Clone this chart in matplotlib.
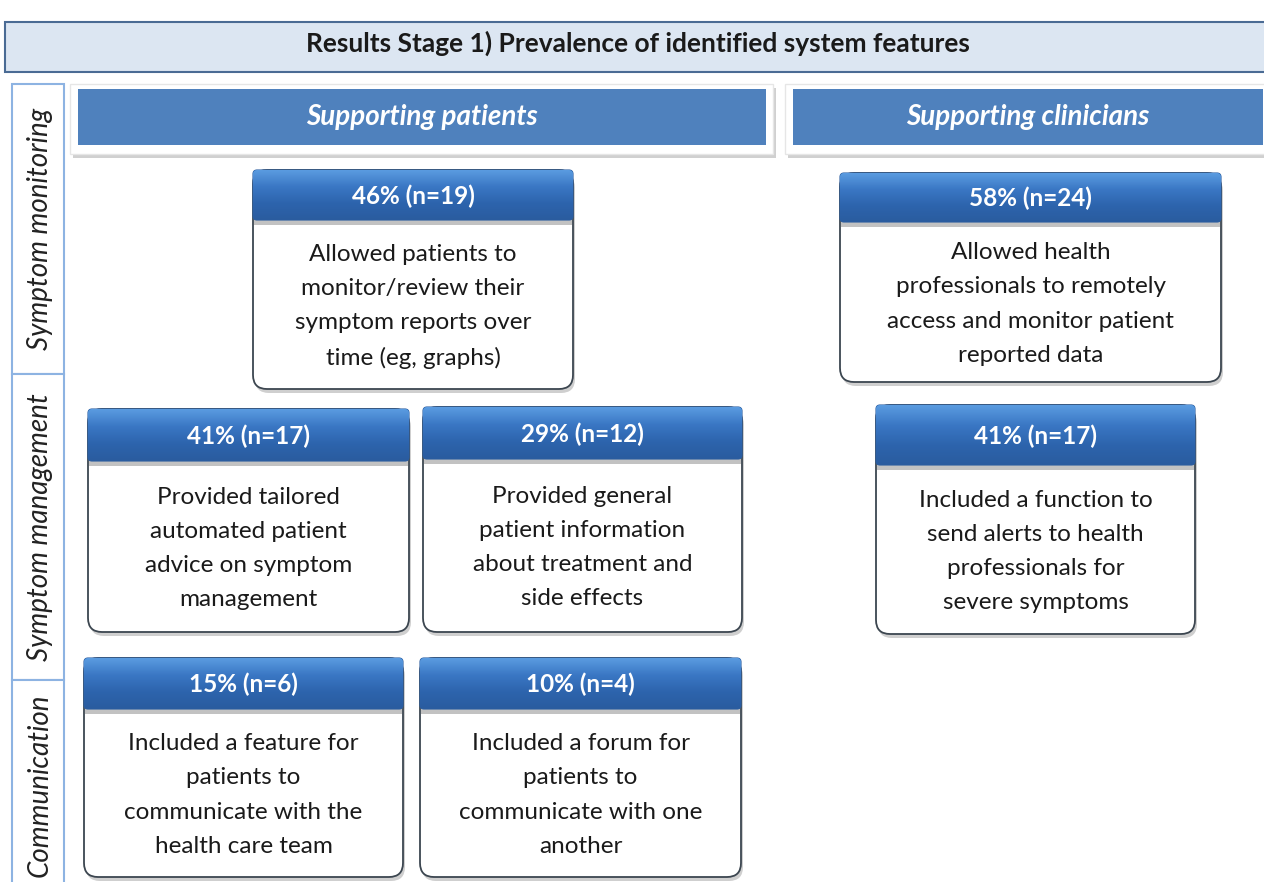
import numpy as np
import matplotlib
matplotlib.use("Agg")
import matplotlib.pyplot as plt
from matplotlib.patches import FancyBboxPatch, Rectangle

plt.rcParams['font.family'] = ['Lato', 'DejaVu Sans']

# --- content ---
title = "Results Stage 1) Prevalence of identified system features"
row_labels = ["Symptom monitoring", "Symptom management", "Communication"]
col_labels = ["Supporting patients", "Supporting clinicians"]

pcts = [46, 58, 41, 29, 41, 15, 10]
ns = [19, 24, 17, 12, 17, 6, 4]
descs = [
    "Allowed patients to\nmonitor/review their\nsymptom reports over\ntime (eg, graphs)",
    "Allowed health\nprofessionals to remotely\naccess and monitor patient\nreported data",
    "Provided tailored\nautomated patient\nadvice on symptom\nmanagement",
    "Provided general\npatient information\nabout treatment and\nside effects",
    "Included a function to\nsend alerts to health\nprofessionals for\nsevere symptoms",
    "Included a feature for\npatients to\ncommunicate with the\nhealth care team",
    "Included a forum for\npatients to\ncommunicate with one\nanother",
]

# --- layout (pixels, y downward) ---
W, H = 1264, 882
row_spans = [(84, 374), (374, 680), (680, 890)]
col_outer = [(70, 773), (785, 1270)]
# card: x0, x1, top, header bottom, bottom
cards = [
    (253, 573, 170, 220, 389),
    (840, 1221, 173, 222, 382),
    (88, 409, 409, 461, 632),
    (423, 742, 407, 459, 632),
    (876, 1195, 405, 465, 634),
    (84, 403, 658, 709, 877),
    (420, 741, 658, 709, 877),
]

fig = plt.figure(figsize=(W / 100, H / 100), dpi=100)
ax = fig.add_axes([0, 0, 1, 1])
ax.set_xlim(0, W)
ax.set_ylim(H, 0)
ax.axis('off')

# title banner
ax.add_patch(Rectangle((5, 22), W, 50, facecolor='#dce6f2', edgecolor='#4a6b94', lw=1.5))
ax.text(638, 43, title, ha='center', va='center', fontsize=19, fontweight='bold', color='#1a1a1a')

# row labels
for (y0, y1), lab in zip(row_spans, row_labels):
    ax.add_patch(Rectangle((12, y0), 52, y1 - y0, facecolor='white', edgecolor='#8db3e2', lw=1.5))
    ax.text(40, (y0 + y1) / 2, lab, rotation=90, ha='center', va='center',
            fontsize=20, fontstyle='italic', color='#222222')

# column headers
for (x0, x1), lab in zip(col_outer, col_labels):
    ax.add_patch(Rectangle((x0 + 3, 88), x1 - x0, 70, facecolor='#d0d0d0', edgecolor='none'))
    ax.add_patch(Rectangle((x0, 84), x1 - x0, 70, facecolor='white', edgecolor='#e6e6e6', lw=1))
    ax.add_patch(Rectangle((x0 + 8, 89), x1 - x0 - 15, 56, facecolor='#4f81bd', edgecolor='none'))
    cx = (x0 + 8 + min(x1 - 7, W)) / 2
    ax.text(cx, 117, lab, ha='center', va='center', fontsize=20, fontweight='bold',
            fontstyle='italic', color='white')

grad = np.linspace(0, 1, 64).reshape(-1, 1)
cmap = matplotlib.colors.LinearSegmentedColormap.from_list('hdr', ['#5a9be0', '#3a77c4', '#2d64ad', '#2a5c9f'])

for (x0, x1, yt, yh, yb), p, n, d in zip(cards, pcts, ns, descs):
    # body
    ax.add_patch(FancyBboxPatch((x0 + 2, yt + 4), x1 - x0, yb - yt, boxstyle='round,pad=0,rounding_size=14',
                                facecolor='#cfcfcf', edgecolor='none'))
    ax.add_patch(FancyBboxPatch((x0, yt), x1 - x0, yb - yt, boxstyle='round,pad=0,rounding_size=14',
                                facecolor='white', edgecolor='#3c4650', lw=1.3))
    # header shadow
    ax.add_patch(Rectangle((x0 + 1, yh), x1 - x0 - 2, 5, facecolor='#9a9a9a', edgecolor='none', alpha=0.6))
    hdr = FancyBboxPatch((x0, yt), x1 - x0, yh - yt, boxstyle='round,pad=0,rounding_size=4',
                         facecolor='#3572c0', edgecolor='#2a5c9f', lw=0.8)
    ax.add_patch(hdr)
    im = ax.imshow(grad, extent=(x0, x1, yh, yt), cmap=cmap, aspect='auto', zorder=hdr.get_zorder() + 0.1)
    im.set_clip_path(hdr)
    ax.text((x0 + x1) / 2, (yt + yh) / 2 + 1, f"{p}% (n={n})", ha='center', va='center',
            fontsize=17.5, fontweight='bold', color='white', zorder=5)
    ax.text((x0 + x1) / 2, (yh + yb) / 2 + 2, d, ha='center', va='center', fontsize=17.5,
            color='#1a1a1a', linespacing=1.78, zorder=5)

ax.set_xlim(0, W)
ax.set_ylim(H, 0)
fig.savefig("out.png", dpi=100)
